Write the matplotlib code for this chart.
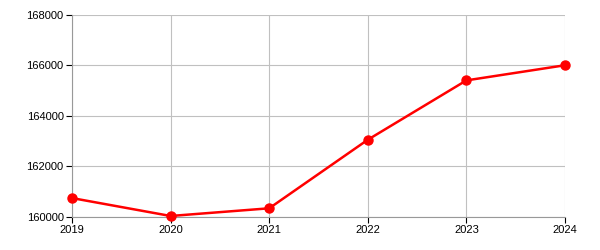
import matplotlib
matplotlib.use("Agg")
import matplotlib.pyplot as plt

years = [2019, 2020, 2021, 2022, 2023, 2024]
values = [160750, 160040, 160345, 163060, 165410, 166010]
yticks = [160000, 162000, 164000, 166000, 168000]

plt.rcParams['font.family'] = ['Liberation Sans', 'DejaVu Sans']
fig = plt.figure(figsize=(6, 2.5), dpi=100)
ax = fig.add_axes([72/600, 1-217/250, (565-72)/600, (217-15)/250])
ax.plot(years, values, color='#ff0000', linewidth=1.8, marker='o', markersize=6.5, zorder=3, clip_on=False)
ax.set_xlim(2019, 2024)
ax.set_ylim(160000, 168000)
ax.set_xticks(years)
ax.set_xticklabels([str(y) for y in years])
ax.set_yticks(yticks)
ax.set_yticklabels([str(y) for y in yticks])
ax.grid(True, color='#c0c0c0', linewidth=0.8)
for s in ['top', 'right']:
    ax.spines[s].set_visible(False)
for s in ['left', 'bottom']:
    ax.spines[s].set_color('#999999')
    ax.spines[s].set_linewidth(0.8)
ax.tick_params(axis='both', length=4, width=0.8, color='black', labelsize=8, pad=2)
fig.savefig('out.png', dpi=100)
